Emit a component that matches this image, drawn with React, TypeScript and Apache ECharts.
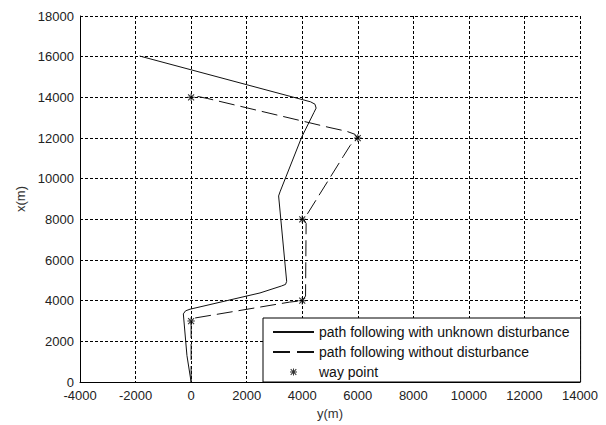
import React, { useEffect, useRef } from "react";
import * as echarts from "echarts";

const xTicksMin = -4000;
const xTicksMax = 14000;
const yTicksMin = 0;
const yTicksMax = 18000;
const tickStep = 2000;

const seriesNames = [
  "path following with unknown disturbance",
  "path following without disturbance",
  "way point",
];

// [y(m), x(m)]
const pathWithDisturbance: number[][] = [
  [0, 0], [-150, 1300], [-280, 3350], [-200, 3500], [-40, 3580],
  [2480, 4380], [3250, 4720], [3400, 4800], [3440, 4950],
  [3150, 9150], [3200, 9350], [3980, 12040], [4420, 13250],
  [4500, 13470], [4460, 13660], [4300, 13780], [-1850, 16030],
];

const pathWithoutDisturbance: number[][] = [
  [0, 0], [0, 3000], [150, 3150], [3550, 3930], [4000, 4000],
  [4120, 4230], [4140, 7800], [4060, 7990], [5480, 11100],
  [5720, 11620], [5850, 11830], [6000, 12000], [5900, 12180],
  [5600, 12330], [5000, 12510], [600, 13940], [250, 14040], [0, 14000],
];

const wayPoints: number[][] = [
  [0, 3000], [4000, 4000], [4000, 8000], [6000, 12000], [0, 14000],
];

const asterisk =
  "path://M-5 -5 L-5 -5 Z M15 15 L15 15 Z " +
  "M4.3 0 L5.7 0 L5.7 10 L4.3 10 Z " +
  "M0 4.3 L10 4.3 L10 5.7 L0 5.7 Z " +
  "M0.5 1.5 L1.5 0.5 L9.5 8.5 L8.5 9.5 Z " +
  "M8.5 0.5 L9.5 1.5 L1.5 9.5 L0.5 8.5 Z";

const FONT = "'Liberation Sans', Arial, sans-serif";

export default function App() {
  const ref = useRef<HTMLDivElement>(null);
  useEffect(() => {
    if (!ref.current) return;
    const chart = echarts.init(ref.current, undefined, { renderer: "svg" });
    const gridLine = { show: true, lineStyle: { color: "#000", width: 1, type: [3, 2] as any } };
    const hiddenSymbol = { opacity: 0, color: "rgba(0,0,0,0)", borderWidth: 0 };
    chart.setOption({
      animation: false,
      backgroundColor: "#fff",
      textStyle: { fontFamily: FONT },
      grid: { left: 80, right: 26, top: 16, bottom: 38, containLabel: false },
      xAxis: {
        type: "value",
        min: xTicksMin,
        max: xTicksMax,
        interval: tickStep,
        name: "y(m)",
        nameLocation: "middle",
        nameGap: 25,
        nameTextStyle: { fontSize: 13, color: "#333", fontFamily: FONT },
        axisLine: { show: true, onZero: false, lineStyle: { color: "#000", width: 1 } },
        axisTick: { show: false },
        axisLabel: { fontSize: 13, color: "#222", margin: 7, fontFamily: FONT, formatter: (v: number) => String(v) },
        splitLine: gridLine,
      },
      yAxis: {
        type: "value",
        min: yTicksMin,
        max: yTicksMax,
        interval: tickStep,
        name: "x(m)",
        nameLocation: "middle",
        nameGap: 50,
        nameTextStyle: { fontSize: 13, color: "#333", fontFamily: FONT },
        axisLine: { show: true, onZero: false, lineStyle: { color: "#000", width: 1 } },
        axisTick: { show: false },
        axisLabel: { fontSize: 13, color: "#222", margin: 6, fontFamily: FONT, formatter: (v: number) => String(v) },
        splitLine: gridLine,
      },
      legend: {
        orient: "vertical",
        left: 263,
        top: 318,
        padding: [7, 11, 3, 9],
        itemGap: 6,
        itemWidth: 41,
        itemHeight: 14,
        backgroundColor: "#fff",
        borderColor: "#000",
        borderWidth: 1,
        borderRadius: 0,
        textStyle: { fontSize: 14, color: "#111", fontFamily: FONT },
        data: [
          { name: seriesNames[0], itemStyle: hiddenSymbol },
          { name: seriesNames[1], itemStyle: hiddenSymbol, lineStyle: { type: [17, 7] } },
          { name: seriesNames[2] },
        ],
      },
      series: [
        {
          name: seriesNames[0],
          type: "line",
          data: pathWithDisturbance,
          symbol: "none",
          lineStyle: { color: "#111", width: 1, type: "solid" },
          itemStyle: { color: "#111" },
          z: 3,
        },
        {
          name: seriesNames[1],
          type: "line",
          data: pathWithoutDisturbance,
          symbol: "none",
          lineStyle: { color: "#111", width: 1, type: [16, 6] },
          itemStyle: { color: "#111" },
          z: 3,
        },
        {
          name: seriesNames[2],
          type: "scatter",
          data: wayPoints,
          symbol: asterisk,
          symbolSize: 15,
          itemStyle: { color: "#000" },
          z: 5,
        },
      ],
    });
    return () => chart.dispose();
  }, []);
  return (
    <div
      ref={ref}
      style={{ position: "fixed", left: 0, top: 0, width: 606, height: 425, background: "#fff" }}
    />
  );
}
